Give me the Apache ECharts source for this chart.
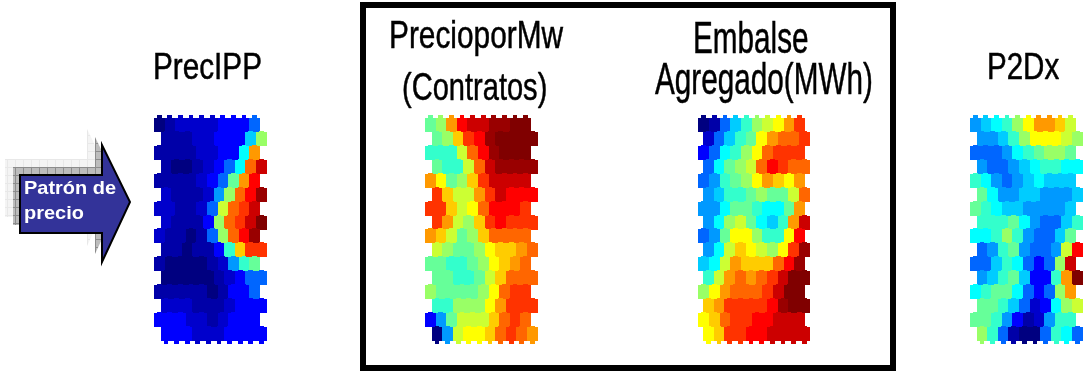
<!DOCTYPE html>
<html><head><meta charset="utf-8">
<style>html,body{margin:0;padding:0;background:#fff}#c{width:1085px;height:371px}</style>
<script src="https://cdn.jsdelivr.net/npm/echarts@6/dist/echarts.min.js"></script>
</head><body><div id="c"></div>
<script>
const palette=['#000080','#0000a8','#0000cc','#0000ff','#0066ff','#0099ff','#00ccff','#00ffff','#33ffcc','#66ff99','#99ff66','#ccff33','#ffff00','#ffcc00','#ff9900','#ff6600','#ff3300','#ff0000','#cc0000','#990000','#800000'];
const precIPP=[
[0,1,2,2,2,2,3,3,3,4],
[1,1,1,2,2,3,3,3,6,10],
[1,1,1,1,2,2,3,3,7,14],
[1,0,0,1,2,3,4,7,15,18],
[1,1,1,1,2,3,4,9,14,17],
[2,1,1,1,2,5,10,15,17,19],
[2,2,1,1,2,4,11,15,16,18],
[2,1,1,1,3,10,15,16,18,20],
[2,1,1,0,1,4,10,15,17,19],
[1,1,0,1,1,3,8,13,16,16],
[1,0,0,0,0,1,2,5,8,9],
[0,0,0,0,0,1,2,3,4,4],
[1,1,1,1,1,0,1,3,3,4],
[2,2,2,1,1,1,2,3,3,3],
[3,3,3,2,2,1,2,3,3,3],
[3,3,3,2,2,2,3,3,3,3]];
const precioMw=[
[9,10,14,17,18,18,19,19,20,20],
[9,10,13,16,17,19,20,20,20,20],
[8,8,8,11,15,17,19,20,20,20],
[9,8,8,11,15,18,19,19,19,19],
[14,12,9,10,13,16,18,18,18,18],
[16,13,11,11,14,16,18,17,17,17],
[16,16,13,11,12,15,17,17,17,16],
[16,14,11,10,13,16,17,16,16,16],
[14,13,11,9,10,13,15,15,15,15],
[11,10,9,9,10,12,13,13,14,15],
[9,9,8,8,9,10,12,13,14,15],
[9,9,8,8,9,11,13,15,15,15],
[10,9,9,9,9,10,12,15,16,16],
[8,8,10,10,10,12,14,16,16,16],
[3,5,9,11,11,11,13,15,16,15],
[0,5,11,12,12,13,15,16,15,14]];
const embalse=[
[0,1,4,6,8,10,11,12,14,16],
[2,4,6,8,9,12,14,15,15,16],
[3,4,7,8,10,12,15,16,16,16],
[4,7,9,10,11,15,17,16,15,15],
[4,5,8,9,10,12,14,13,12,14],
[5,6,8,8,9,10,9,9,11,15],
[5,5,7,9,9,8,7,7,9,14],
[5,7,10,11,9,7,6,8,14,18],
[4,5,9,12,12,10,8,8,12,17],
[5,7,11,13,12,11,10,12,16,19],
[6,7,11,14,13,13,13,15,17,19],
[8,11,14,15,14,15,16,18,20,20],
[10,12,14,15,15,15,16,18,20,20],
[13,14,16,16,16,16,17,19,20,20],
[12,13,15,16,16,17,17,18,18,18],
[12,13,16,16,17,17,18,18,18,18]];
const p2dx=[
[5,6,7,8,10,12,14,14,13,11],
[5,5,6,8,10,12,12,12,11,10],
[4,4,4,5,7,8,9,10,10,9],
[5,4,4,5,6,7,8,8,7,7],
[8,7,5,4,5,6,7,6,6,6],
[9,7,5,5,6,6,5,5,5,6],
[9,8,7,6,6,5,5,5,5,6],
[8,8,8,9,7,5,4,4,6,8],
[7,7,8,10,8,5,4,4,6,9],
[4,5,8,9,5,4,4,5,11,17],
[4,4,6,8,7,4,3,4,10,18],
[5,6,8,9,6,3,3,8,14,20],
[7,8,9,9,7,4,3,4,10,14],
[9,9,8,6,4,2,3,7,10,11],
[9,9,8,5,3,1,2,5,8,8],
[10,8,4,1,0,0,4,8,7,4]];
const grids=[
 {d:precIPP,left:159.3,width:102,shift:0.632},
 {d:precioMw,left:430.3,width:102,shift:0.632},
 {d:embalse,left:703.6,width:100.7,shift:0.44},
 {d:p2dx,left:975.3,width:102,shift:0.632}
];
const titles=[
 {t:'PrecIPP',x:153,y:69,fs:36,sx:0.825},
 {t:'PrecioporMw',x:389,y:37,fs:39,sx:0.765},
 {t:'(Contratos)',x:402,y:89,fs:39,sx:0.745},
 {t:'Embalse',x:693,y:41,fs:44,sx:0.675},
 {t:'Agregado(MWh)',x:655,y:82,fs:44,sx:0.675},
 {t:'P2Dx',x:987,y:69,fs:36,sx:0.82}
];
const F='"Liberation Sans",Arial,sans-serif';
function arrow(dx,dy){return [[20+dx,175+dy],[102+dx,175+dy],[102+dx,145+dy],[130+dx,202+dy],[102+dx,262+dy],[102+dx,233+dy],[20+dx,233+dy]];}
function gridPattern(bg,line){
 const cv=document.createElement('canvas');cv.width=8;cv.height=8;
 const g=cv.getContext('2d');g.fillStyle=bg;g.fillRect(0,0,8,8);
 g.fillStyle=line;g.fillRect(0,7,8,1);g.fillRect(7,0,1,8);
 return {image:cv,repeat:'repeat'};
}
const chart=echarts.init(document.getElementById('c'),null,{renderer:'canvas'});
const R=Math.round;
const option={
 animation:false,backgroundColor:'#fff',
 grid:grids.map(g=>({left:g.left,top:125,width:g.width,height:209,containLabel:false})),
 xAxis:grids.map((g,i)=>({type:'value',gridIndex:i,min:0,max:9+g.shift,show:false})),
 yAxis:grids.map((g,i)=>({type:'value',gridIndex:i,min:0,max:15,inverse:true,show:false})),
 visualMap:{show:false,min:0,max:palette.length-1,dimension:2,inRange:{color:palette},seriesIndex:[0,1,2,3]},
 series:grids.map((g,i)=>({
  type:'custom',xAxisIndex:i,yAxisIndex:i,silent:true,clip:false,
  encode:{x:0,y:1},
  data:g.d.flatMap((row,r)=>row.map((v,c)=>[c+(r%2?g.shift:0),r,v])),
  renderItem:(p,api)=>{
   const r=api.value(1);
   const [x,y]=api.coord([api.value(0),r]);
   const w=api.size([1,1])[0]/2;
   const L=R(x-w),Rt=R(x+w),T=R(y-6.97),B=R(y+6.97),sL=R(x-2.4),sR=R(x+2.4);
   const tTop=r===0?3:1,tBot=r===15?3:0;
   const col=api.visual('color');
   return {type:'polygon',shape:{points:[[L,T],[sL,T],[sL,T-tTop],[sR,T-tTop],[sR,T],[Rt,T],[Rt,B],[sR,B],[sR,B+tBot],[sL,B+tBot],[sL,B],[L,B]]},style:{fill:col,stroke:null}};
  }
 })),
 graphic:{elements:[
  {type:'rect',shape:{x:363,y:5,width:530,height:363},style:{fill:null,stroke:'#000',lineWidth:6},z:1},
  {type:'rect',shape:{x:360,y:365,width:536,height:6},style:{fill:'#000'},z:1},
  {type:'polygon',shape:{points:arrow(-15,-16)},style:{fill:gridPattern('#f4f4f4','#e8e8e8')},z:2},
  {type:'polygon',shape:{points:arrow(-7,-8)},style:{fill:gridPattern('#bcbcbc','#8c8c8c')},z:3},
  {type:'polygon',shape:{points:arrow(0,0)},style:{fill:'#333399',stroke:'#000',lineWidth:2},z:4},
  {type:'text',x:24,y:189,scaleX:1.05,style:{text:'Patrón de',fill:'#fff',font:'bold 19px '+F,verticalAlign:'middle'},z:5},
  {type:'text',x:24,y:214,scaleX:1.05,style:{text:'precio',fill:'#fff',font:'bold 19px '+F,verticalAlign:'middle'},z:5},
  ...titles.map(o=>({type:'text',x:o.x,y:o.y,scaleX:o.sx,style:{text:o.t,fill:'#000',font:o.fs+'px '+F,verticalAlign:'middle',stroke:'#000',lineWidth:0.5},z:5}))
 ]}
};
chart.setOption(option);
</script></body></html>
